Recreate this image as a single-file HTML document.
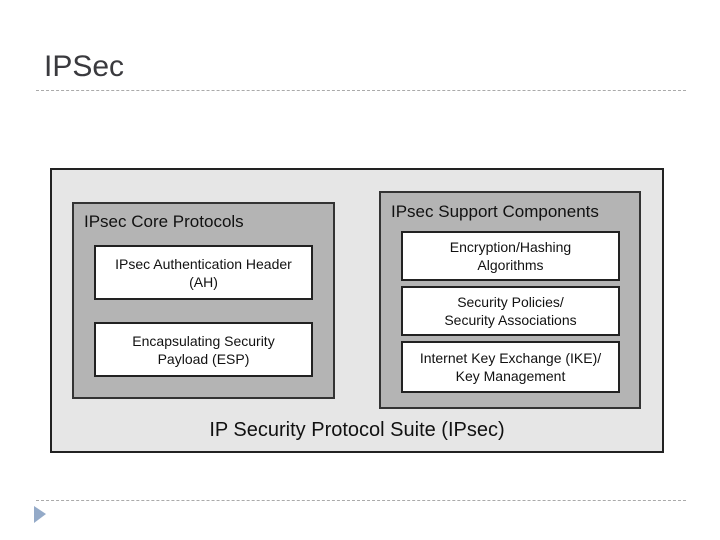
<!DOCTYPE html>
<html><head><style>
body{margin:0;width:720px;height:540px;background:#fff;position:relative;overflow:hidden;font-family:"Liberation Sans",sans-serif;}
.a{position:absolute;box-sizing:border-box;}
.t{display:flex;align-items:center;justify-content:center;text-align:center;color:#111;font-size:14px;line-height:18px;}
.w{background:#fff;border:2px solid #222;}
</style></head><body>
<div class="a" style="left:44px;top:50px;font-size:30px;color:#3a3a3e;">IPSec</div>
<div class="a" style="left:36px;top:90px;width:650px;border-top:1px dashed #aaa;"></div>
<div class="a" style="left:36px;top:500px;width:650px;border-top:1px dashed #aaa;"></div>
<svg class="a" style="left:34px;top:506px" width="14" height="18"><polygon points="0,0 12,8 0,17" fill="#94aac8"/></svg>

<div class="a" style="left:50px;top:168px;width:614px;height:285px;background:#e6e6e6;border:2px solid #222;"></div>
<div class="a" style="left:72px;top:202px;width:263px;height:197px;background:#b4b4b4;border:2px solid #333;"></div>
<div class="a" style="left:84px;top:212px;font-size:17px;color:#111;">IPsec Core Protocols</div>
<div class="a w t" style="left:94px;top:245px;width:219px;height:55px;">IPsec Authentication Header<br>(AH)</div>
<div class="a w t" style="left:94px;top:322px;width:219px;height:55px;">Encapsulating Security<br>Payload (ESP)</div>

<div class="a" style="left:379px;top:191px;width:262px;height:218px;background:#b4b4b4;border:2px solid #333;"></div>
<div class="a" style="left:391px;top:202px;font-size:17px;color:#111;">IPsec Support Components</div>
<div class="a w t" style="left:401px;top:231px;width:219px;height:50px;">Encryption/Hashing<br>Algorithms</div>
<div class="a w t" style="left:401px;top:286px;width:219px;height:50px;">Security Policies/<br>Security Associations</div>
<div class="a w t" style="left:401px;top:341px;width:219px;height:52px;">Internet Key Exchange (IKE)/<br>Key Management</div>

<div class="a" style="left:50px;top:419px;width:614px;text-align:center;font-size:20px;color:#111;">IP Security Protocol Suite (IPsec)</div>
</body></html>
